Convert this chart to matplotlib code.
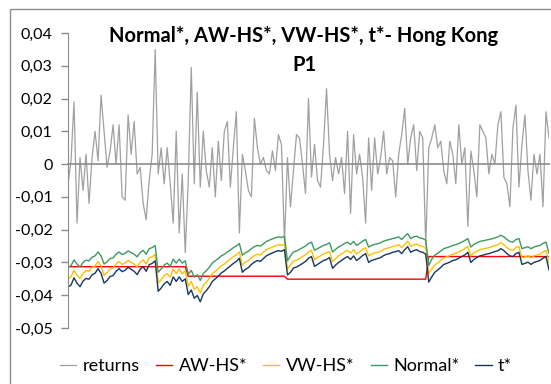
import matplotlib
matplotlib.use("Agg")
import matplotlib.pyplot as plt
import numpy as np
from matplotlib.patches import Rectangle
from matplotlib.ticker import FuncFormatter

plt.rcParams["font.family"] = ["Lato", "DejaVu Sans"]

# daily returns, Hong Kong P1 (in %)
returns_pct = [
    -0.6, 0.1, 1.9, -1.8, 0.2, -0.8, 0.3, -1.2, 0.2, 1.0,
    0.1, 2.1, 1.0, -0.1, 0.4, 1.2, 0.0, 1.2, -1.0, -1.1,
    1.5, 0.3, 1.3, -0.3, -0.1, -1.2, -1.7, -0.5, 0.3, 3.5,
    -0.3, 0.5, -0.6, 0.5, -0.6, -1.8, 1.0, -2.1, -0.3, -2.7,
    -0.5, 2.95, -0.6, 2.2, -0.7, 1.0, -0.2, -0.7, 0.5, -1.0,
    0.7, -0.5, 1.0, 1.3, -0.7, 0.5, 1.6, -2.1, 0.3, -0.2,
    -0.8, -1.0, 1.4, 0.5, 0.0, 0.2, -0.2, -0.3, 0.4, -0.2,
    0.9, 0.6, -2.4, 0.2, -1.3, -0.2, 0.9, 0.8, 0.0, -0.9,
    2.0, -0.4, 0.6, -0.5, -0.7, 0.6, 2.3, 0.3, -0.5, 0.2,
    -0.3, 0.2, -0.9, 1.0, -1.5, 0.9, -0.3, 0.3, -0.4, -1.8,
    0.8, -0.8, 0.8, -0.3, 0.2, 1.0, -0.3, 0.2, 0.1, -1.0,
    0.3, 0.9, 1.7, 0.0, 0.8, 1.2, -0.2, 1.0, 0.8, -2.5,
    0.5, 0.8, 1.2, 0.5, 0.7, -0.2, -0.6, 0.7, 0.3, -0.6,
    1.2, 0.0, 0.5, -1.9, 0.4, -0.2, -1.0, 1.2, 1.0, 0.8,
    -0.3, 0.3, 0.0, 1.2, 1.6, -0.4, -0.6, -1.3, 1.1, 1.8,
    -0.7, 0.6, 1.5, -0.2, -1.1, 0.3, -0.3, 0.3, -1.3, 1.6,
    0.8,
]

# AW-HS* is flat between re-estimations: levels and number of days
aw_levels = [-3.13, -3.42, -3.51, -2.82]
aw_days = [40, 33, 47, 41]

normal_pct = [
    -3.15, -3.10, -2.92, -3.05, -3.14, -3.00, -2.93, -2.95, -2.84, -2.80,
    -2.68, -2.80, -3.05, -2.98, -2.88, -2.86, -2.75, -2.68, -2.76, -2.72,
    -2.65, -2.70, -2.75, -2.83, -2.70, -2.63, -2.75, -2.58, -2.55, -2.48,
    -3.30, -3.20, -3.08, -3.02, -3.12, -2.90, -3.02, -2.90, -3.02, -2.95,
    -3.36, -3.24, -3.45, -3.38, -3.55, -3.34, -3.25, -3.15, -3.02, -2.95,
    -2.88, -2.80, -2.75, -2.68, -2.62, -2.55, -2.50, -2.42, -2.78, -2.70,
    -2.66, -2.58, -2.52, -2.48, -2.50, -2.43, -2.36, -2.32, -2.28, -2.25,
    -2.22, -2.24, -2.20, -2.95, -2.80, -2.68, -2.65, -2.60, -2.55, -2.50,
    -2.42, -2.38, -2.63, -2.58, -2.53, -2.48, -2.45, -2.40, -2.68, -2.60,
    -2.53, -2.48, -2.42, -2.38, -2.45, -2.36, -2.48, -2.42, -2.35, -2.30,
    -2.53, -2.48, -2.45, -2.43, -2.40, -2.35, -2.32, -2.30, -2.27, -2.25,
    -2.22, -2.30, -2.20, -2.12, -2.27, -2.22, -2.20, -2.25, -2.27, -2.32,
    -3.09, -2.90, -2.78, -2.72, -2.65, -2.58, -2.55, -2.52, -2.48, -2.46,
    -2.42, -2.38, -2.33, -2.27, -2.53, -2.45, -2.40, -2.36, -2.34, -2.32,
    -2.30, -2.28, -2.25, -2.22, -2.17, -2.22, -2.30, -2.36, -2.38, -2.30,
    -2.27, -2.58, -2.55, -2.52, -2.58, -2.53, -2.50, -2.48, -2.42, -2.38,
    -2.72,
]

vw_hs_pct = [
    -3.50, -3.44, -3.24, -3.39, -3.49, -3.33, -3.25, -3.27, -3.15, -3.11,
    -2.97, -3.11, -3.39, -3.31, -3.20, -3.17, -3.05, -2.97, -3.06, -3.02,
    -2.94, -3.00, -3.05, -3.14, -3.00, -2.92, -3.05, -2.86, -2.83, -2.75,
    -3.62, -3.53, -3.40, -3.34, -3.45, -3.20, -3.34, -3.20, -3.34, -3.26,
    -3.72, -3.58, -3.82, -3.74, -3.93, -3.70, -3.60, -3.49, -3.34, -3.27,
    -3.19, -3.10, -3.05, -2.97, -2.90, -2.82, -2.77, -2.68, -3.08, -2.99,
    -2.95, -2.86, -2.79, -2.75, -2.77, -2.69, -2.61, -2.57, -2.53, -2.49,
    -2.46, -2.48, -2.44, -3.20, -3.08, -2.96, -2.93, -2.88, -2.82, -2.77,
    -2.68, -2.63, -2.91, -2.85, -2.80, -2.74, -2.71, -2.66, -2.97, -2.88,
    -2.80, -2.74, -2.68, -2.63, -2.71, -2.61, -2.74, -2.68, -2.60, -2.55,
    -2.80, -2.74, -2.71, -2.69, -2.66, -2.60, -2.57, -2.55, -2.51, -2.49,
    -2.46, -2.55, -2.44, -2.35, -2.51, -2.46, -2.44, -2.49, -2.51, -2.57,
    -3.34, -3.20, -3.08, -3.01, -2.94, -2.86, -2.83, -2.79, -2.75, -2.72,
    -2.68, -2.63, -2.58, -2.51, -2.80, -2.71, -2.66, -2.61, -2.59, -2.57,
    -2.55, -2.52, -2.49, -2.46, -2.40, -2.46, -2.55, -2.61, -2.63, -2.55,
    -2.51, -2.86, -2.83, -2.79, -2.86, -2.80, -2.77, -2.75, -2.68, -2.63,
    -3.01,
]

t_pct = [
    -3.75, -3.69, -3.47, -3.63, -3.74, -3.57, -3.49, -3.51, -3.38, -3.33,
    -3.19, -3.33, -3.63, -3.55, -3.43, -3.40, -3.27, -3.19, -3.28, -3.24,
    -3.15, -3.21, -3.27, -3.37, -3.21, -3.13, -3.27, -3.07, -3.03, -2.95,
    -3.88, -3.78, -3.65, -3.58, -3.70, -3.44, -3.58, -3.44, -3.58, -3.50,
    -3.98, -3.84, -4.09, -4.01, -4.20, -3.96, -3.86, -3.74, -3.58, -3.50,
    -3.42, -3.32, -3.26, -3.18, -3.11, -3.03, -2.97, -2.87, -3.30, -3.21,
    -3.16, -3.06, -2.99, -2.94, -2.97, -2.88, -2.80, -2.75, -2.71, -2.67,
    -2.64, -2.66, -2.61, -3.38, -3.30, -3.17, -3.14, -3.09, -3.03, -2.97,
    -2.87, -2.82, -3.12, -3.06, -3.00, -2.94, -2.91, -2.85, -3.18, -3.08,
    -3.00, -2.94, -2.87, -2.82, -2.91, -2.80, -2.94, -2.87, -2.79, -2.73,
    -3.00, -2.94, -2.91, -2.88, -2.85, -2.79, -2.75, -2.73, -2.69, -2.67,
    -2.64, -2.73, -2.61, -2.52, -2.69, -2.64, -2.61, -2.67, -2.69, -2.75,
    -3.60, -3.44, -3.30, -3.23, -3.15, -3.06, -3.03, -2.99, -2.94, -2.92,
    -2.87, -2.82, -2.77, -2.69, -3.00, -2.91, -2.85, -2.80, -2.78, -2.75,
    -2.73, -2.70, -2.67, -2.64, -2.58, -2.64, -2.73, -2.80, -2.82, -2.73,
    -2.69, -3.06, -3.03, -2.99, -3.06, -3.00, -2.97, -2.94, -2.87, -2.82,
    -3.23,
]

y_ticks = [-0.05, -0.04, -0.03, -0.02, -0.01, 0.0, 0.01, 0.02, 0.03, 0.04]

returns = np.array(returns_pct) / 100
aw_hs = np.repeat(aw_levels, aw_days) / 100
vw_hs = np.array(vw_hs_pct) / 100
normal = np.array(normal_pct) / 100
t_star = np.array(t_pct) / 100
days = np.arange(len(returns))

fig = plt.figure(figsize=(5.51, 3.84), dpi=100)
# chart frame (only top and left edge are visible in the picture)
fig.patches.append(Rectangle((10 / 551, -0.2), 1.2, 1.2 - 9 / 384,
                             transform=fig.transFigure, fill=False,
                             edgecolor="#8c8c8c", linewidth=1.0))

ax = fig.add_axes([68 / 551, 1 - 328 / 384, 481 / 551, 295 / 384])
ax.patch.set_alpha(0)

ax.plot(days, returns, color="#a0a0a0", linewidth=0.9, label="returns")
ax.plot(days, aw_hs, color="#ff0000", linewidth=1.0, label="AW-HS*")
ax.plot(days, vw_hs, color="#ffc000", linewidth=1.0, label="VW-HS*")
ax.plot(days, normal, color="#3c9a60", linewidth=1.0, label="Normal*")
ax.plot(days, t_star, color="#17375e", linewidth=1.0, label="t*")

ax.set_xlim(0, len(days) - 1)
ax.set_ylim(-0.05, 0.04)
ax.set_yticks(y_ticks)
ax.yaxis.set_major_formatter(FuncFormatter(
    lambda v, p: "0" if abs(v) < 1e-9 else f"{v:.2f}".replace(".", ",")))
ax.tick_params(axis="y", length=5, width=1, color="#8c8c8c", pad=6,
               labelsize=11.5, labelcolor="black")
ax.set_xticks([])

for side in ["top", "right"]:
    ax.spines[side].set_visible(False)
ax.spines["left"].set_color("#8c8c8c")
ax.spines["bottom"].set_position(("data", 0))
ax.spines["bottom"].set_color("#8c8c8c")
ax.spines["bottom"].set_linewidth(1.2)

fig.text(304 / 551, 1 - 26 / 384, "Normal*, AW-HS*, VW-HS*, t*- Hong Kong\nP1",
         ha="center", va="top", fontsize=14.5, fontweight="bold",
         linespacing=1.55)

fig.legend(loc="center", bbox_to_anchor=(286 / 551, 1 - 366 / 384), ncol=5,
           frameon=False, fontsize=13, handlelength=0.9, handletextpad=0.35,
           columnspacing=0.9)

fig.savefig("out.png", dpi=100)
